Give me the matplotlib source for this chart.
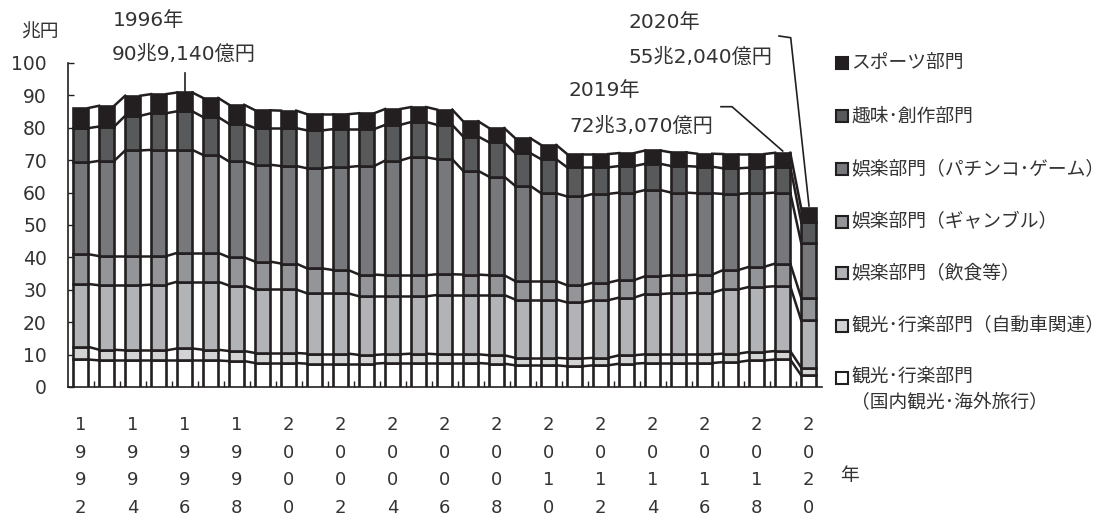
import numpy as np
import matplotlib
matplotlib.use("Agg")
from matplotlib import pyplot as plt
from matplotlib.patches import Rectangle

plt.rcParams['font.family'] = ['DejaVu Sans', 'Noto Sans CJK JP']

years = np.arange(1992, 2021)

# 兆円, bottom to top
kanko = [8.5, 8.2, 8.2, 8.2, 8.2, 8.2, 8.0, 7.4, 7.4, 7.2, 7.2, 7.2, 7.4, 7.4, 7.4,
         7.4, 7.2, 6.7, 6.7, 6.4, 6.7, 7.2, 7.4, 7.4, 7.4, 7.7, 8.2, 8.5, 3.6]
jidosha = [3.9, 3.3, 3.1, 3.1, 3.7, 3.3, 3.1, 3.1, 3.1, 3.1, 3.1, 2.7, 2.7, 2.9, 2.7,
           2.7, 2.6, 2.3, 2.3, 2.4, 2.3, 2.6, 2.7, 2.7, 2.7, 2.6, 2.6, 2.6, 2.4]
inshoku = [19.4, 19.9, 20.1, 20.3, 20.6, 21.0, 20.2, 19.6, 19.6, 18.6, 18.6, 18.1, 17.9, 17.7, 18.3,
           18.3, 18.6, 18.0, 18.0, 17.3, 17.8, 17.8, 18.6, 18.8, 19.0, 19.8, 20.1, 20.0, 14.6]
gamble = [9.2, 9.0, 9.0, 8.8, 8.9, 8.9, 8.7, 8.6, 8.0, 7.7, 7.2, 6.7, 6.5, 6.5, 6.4,
          6.3, 6.1, 5.7, 5.7, 5.3, 5.4, 5.4, 5.5, 5.6, 5.6, 6.0, 6.2, 7.0, 7.0]
pachinko = [28.3, 29.4, 32.6, 32.8, 31.8, 30.2, 29.6, 29.9, 30.1, 30.9, 31.8, 33.5, 35.4, 36.4, 35.5,
            32.0, 30.4, 29.4, 27.1, 27.4, 27.4, 27.0, 26.6, 25.5, 25.1, 23.5, 22.7, 21.9, 16.9]
shumi = [10.6, 10.6, 10.7, 11.3, 11.9, 11.7, 11.6, 11.3, 11.7, 11.7, 11.7, 11.4, 11.0, 10.9, 10.6,
         10.6, 10.6, 10.1, 10.5, 9.0, 8.2, 8.2, 8.1, 8.2, 8.2, 7.9, 7.9, 8.0, 6.5]
sports = [6.2, 6.4, 6.2, 5.9, 5.8, 5.9, 5.9, 5.5, 5.4, 5.0, 4.6, 4.9, 4.9, 4.6, 4.7,
          4.7, 4.4, 4.6, 4.4, 4.1, 4.1, 4.0, 4.1, 4.2, 4.0, 4.4, 4.2, 4.3, 4.2]

series = [kanko, jidosha, inshoku, gamble, pachinko, shumi, sports]
labels = ["観光･行楽部門\n（国内観光･海外旅行）", "観光･行楽部門（自動車関連）",
          "娯楽部門（飲食等）", "娯楽部門（ギャンブル）", "娯楽部門（パチンコ･ゲーム）",
          "趣味･創作部門", "スポーツ部門"]
colors = ["#ffffff", "#d1d3d4", "#b1b3b6", "#939598", "#77787b", "#58595b", "#231f20"]

ink = "#231f20"
txt = "#333333"
W, H = 1119, 520

fig = plt.figure(figsize=(W / 100, H / 100), dpi=100)
ax = fig.add_axes([67.7 / W, 1 - 387 / H, 754 / W, 324 / H])

x = np.arange(len(years))
w = 0.58
bottom = np.zeros(len(years))
levels = []
for s, c in zip(series, colors):
    ax.bar(x, s, w, bottom=bottom, color=c, edgecolor=ink, linewidth=1.9, zorder=3)
    bottom = bottom + np.array(s)
    levels.append(bottom.copy())

# series lines between bars
for lev in levels:
    for i in range(len(x) - 1):
        ax.plot([x[i] + w / 2, x[i + 1] - w / 2], [lev[i], lev[i + 1]],
                color=ink, linewidth=1.8, zorder=2)

ax.set_xlim(-0.5, len(x) - 0.5)
ax.set_ylim(0, 100)
ax.set_yticks(np.arange(0, 101, 10))
ax.tick_params(axis='y', direction='in', length=4, width=1, color=ink,
               labelsize=13.5, labelcolor=txt, pad=15)
ax.set_xticks(x[::2])
ax.set_xticklabels(["\n".join(str(y)) for y in years[::2]], linespacing=1.69)
ax.set_xticks(x[:-1] + 0.5, minor=True)
ax.tick_params(axis='x', which='major', length=0, labelsize=13, labelcolor=txt, pad=21)
ax.tick_params(axis='x', which='minor', direction='in', length=4, width=1, color=ink)
for sp in ['top', 'right']:
    ax.spines[sp].set_visible(False)
for sp in ['left', 'bottom']:
    ax.spines[sp].set_color(ink)
    ax.spines[sp].set_linewidth(1.2)

def fx(px):
    return px / W

def fy(py):
    return 1 - py / H

fig.text(fx(21), fy(32), "兆円", fontsize=13.5, color=txt, va='center')
fig.text(fx(840), fy(476), "年", fontsize=13.5, color=txt, va='center')

# annotations
fig.text(fx(113), fy(21), "1996年", fontsize=14.5, color=txt, va='center')
fig.text(fx(112), fy(54), "90兆9,140億円", fontsize=14.5, color=txt, va='center')
ax.plot([x[4], x[4]], [levels[-1][4], 97], color=ink, linewidth=1.2, clip_on=False)

fig.text(fx(569), fy(91), "2019年", fontsize=14.5, color=txt, va='center')
fig.text(fx(569), fy(126), "72兆3,070億円", fontsize=14.5, color=txt, va='center')
fig.add_artist(plt.Line2D([fx(721), fx(732), fx(782.7)], [fy(106.7), fy(106.7), fy(151)],
                          color=ink, linewidth=1.2))

fig.text(fx(628), fy(22), "2020年", fontsize=14.5, color=txt, va='center')
fig.text(fx(628), fy(57), "55兆2,040億円", fontsize=14.5, color=txt, va='center')
fig.add_artist(plt.Line2D([fx(779), fx(790.7), fx(809)], [fy(36), fy(37.7), fy(206)],
                          color=ink, linewidth=1.2))

# legend
rows = [378, 326, 273, 221.7, 169, 116, 62.7]
for lab, c, ry in zip(labels, colors, rows):
    fig.add_artist(Rectangle((fx(836), fy(ry + 6)), 12 / W, 12 / H,
                             facecolor=c, edgecolor=ink, linewidth=1.5))
    if "\n" in lab:
        fig.text(fx(851), fy(ry - 11), lab, fontsize=13.5, color=txt, va='top',
                 linespacing=1.45)
    else:
        fig.text(fx(851), fy(ry), lab, fontsize=13.5, color=txt, va='center')

fig.savefig("out.png", dpi=100)
